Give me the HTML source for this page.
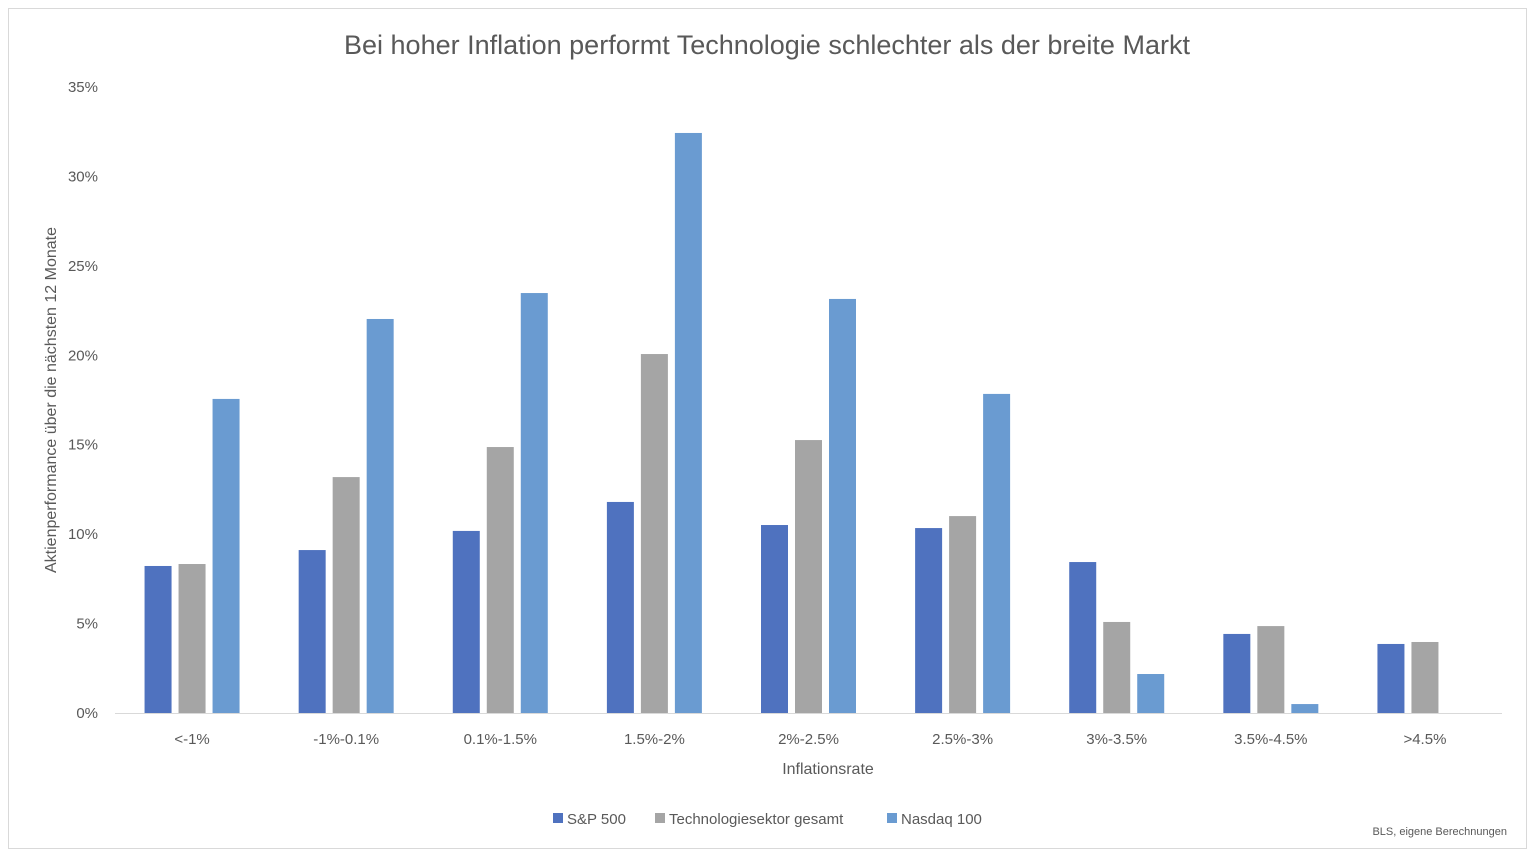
<!DOCTYPE html>
<html><head><meta charset="utf-8">
<style>
html,body{margin:0;padding:0;background:#fff;}
body{width:1534px;height:858px;overflow:hidden;font-family:"Liberation Sans",sans-serif;}
svg text{font-family:"Liberation Sans",sans-serif;fill:#595959;}
</style></head>
<body>
<svg width="1534" height="858">
<rect x="8.5" y="8.5" width="1518" height="840" fill="#fff" stroke="#d9d9d9"/>
<text x="767" y="54" font-size="27" text-anchor="middle">Bei hoher Inflation performt Technologie schlechter als der breite Markt</text>
<g id="yaxis"></g>
<g id="bars"></g>
<g id="xaxis"></g>
<text x="828" y="774" font-size="16" text-anchor="middle">Inflationsrate</text>
<text transform="translate(56,400) rotate(-90)" font-size="16" text-anchor="middle">Aktienperformance über die nächsten 12 Monate</text>
<g id="legend"></g>
<text x="1507" y="835" font-size="11" text-anchor="end" fill="#7f7f7f">BLS, eigene Berechnungen</text>
</svg>
<script>
const categories=["<-1%","-1%-0.1%","0.1%-1.5%","1.5%-2%","2%-2.5%","2.5%-3%","3%-3.5%","3.5%-4.5%",">4.5%"];
const sp500=[8.22,9.11,10.18,11.8,10.51,10.34,8.44,4.42,3.86];
const tech=[8.33,13.19,14.87,20.07,15.26,11.01,5.09,4.86,3.97];
const nasdaq=[17.56,22.03,23.48,32.43,23.15,17.84,2.18,0.5,0];
const yTicks=[0,5,10,15,20,25,30,35];
const seriesNames=["S&P 500","Technologiesektor gesamt","Nasdaq 100"];
const colors=["#4f72bf","#a5a5a5","#6a9bd1"];
const NS="http://www.w3.org/2000/svg";
const x0=115,x1=1502,y0=713,yTop=87,yMax=35;
const y=v=>y0-(v/yMax)*(y0-yTop);
const bw=(x1-x0)/categories.length;
const xc=i=>x0+bw*(i+0.5);
function mk(tag,attrs,parent,txt){const e=document.createElementNS(NS,tag);for(const k in attrs)e.setAttribute(k,attrs[k]);if(txt!==undefined)e.textContent=txt;parent.appendChild(e);return e;}
const ya=document.getElementById('yaxis');
yTicks.forEach(t=>{
  const el=mk('text',{x:98,y:y(t)+5,'font-size':15,'text-anchor':'end'},ya,t+'%');
  
  
});
const bars=document.getElementById('bars');
const all=[sp500,tech,nasdaq];
const barW=27,gap=7;
all.forEach((s,si)=>{
  s.forEach((v,i)=>{
    if(v<=0)return;
    const cx=xc(i)+(si-1)*(barW+gap);
    const r=mk('rect',{x:cx-barW/2,y:y(v),width:barW,height:y0-y(v),fill:colors[si]},bars);
    
    
  });
});
const xa=document.getElementById('xaxis');
const ax=mk('line',{x1:x0,x2:x1,y1:y0+0.5,y2:y0+0.5,stroke:'#d9d9d9','stroke-width':1},xa);


categories.forEach((c,i)=>{
  const t=mk('text',{x:xc(i),y:744,'font-size':15,'text-anchor':'middle'},xa,c);
  
  
});
const lg=document.getElementById('legend');
const lx=[553,655,887];
seriesNames.forEach((n,i)=>{
  const g=mk('g',{},lg);
  
  
  mk('rect',{x:lx[i],y:813,width:10,height:10,fill:colors[i]},g);
  mk('text',{x:lx[i]+14,y:824,'font-size':15},g,n);
});
</script>
</body></html>
